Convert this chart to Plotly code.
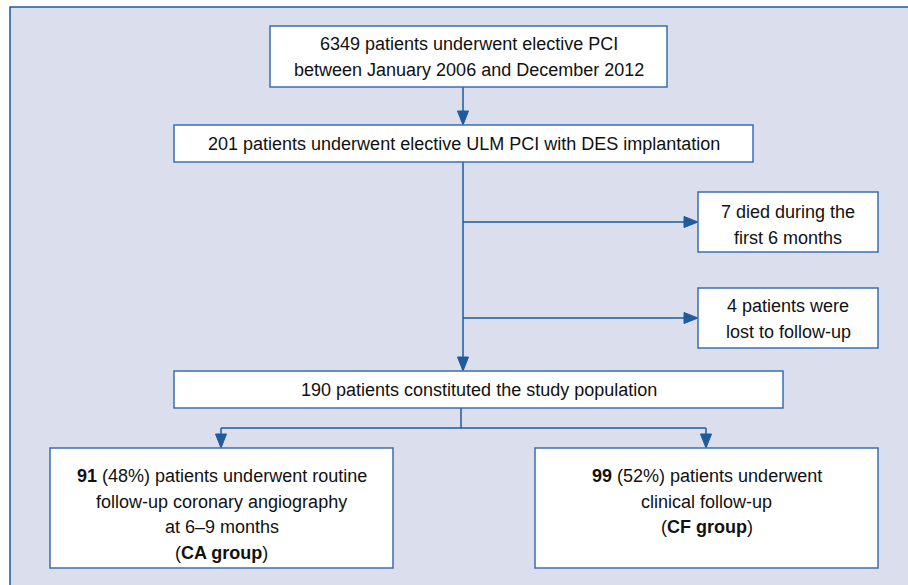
import plotly.graph_objects as go

# ---- content (text lines of each flowchart box) ----
box1_lines = ["6349 patients underwent elective PCI",
              "between January 2006 and December 2012"]
box2_lines = ["201 patients underwent elective ULM PCI with DES implantation"]
box3_lines = ["7 died during the", "first 6 months"]
box4_lines = ["4 patients were", "lost to follow-up"]
box5_lines = ["190 patients constituted the study population"]
box6_lines = ["<b>91</b> (48%) patients underwent routine",
              "follow-up coronary angiography",
              "at 6–9 months",
              "(<b>CA group</b>)"]
box7_lines = ["<b>99</b> (52%) patients underwent",
              "clinical follow-up",
              "(<b>CF group</b>)"]
all_lines = [box1_lines, box2_lines, box3_lines, box4_lines,
             box5_lines, box6_lines, box7_lines]

# ---- layout geometry (pixels) ----
boxes = [  # x0, y0, x1, y1, first-line-center-y
    (270, 26, 667, 87, 44),
    (174, 125, 753, 162, 144),
    (698, 192, 878, 252, 212),
    (698, 288, 878, 348, 306),
    (174, 371, 783, 408, 390),
    (50, 448, 393, 568, 476),
    (535, 448, 878, 568, 476),
]
LINE_STEP = 25.5

W, H = 908, 585
LINE = "#1f5a9e"
BOXLINE = "#3b6fb0"
BG = "#dadeed"
FONT = "Liberation Sans, Arial, sans-serif"

shapes = []
annotations = []

# outer frame
shapes.append(dict(type="rect", x0=10, y0=7, x1=W + 20, y1=H + 20,
                   line=dict(color=LINE, width=1.5), fillcolor=BG, layer="below"))

def seg(x0, y0, x1, y1):
    shapes.append(dict(type="line", x0=x0, y0=y0, x1=x1, y1=y1,
                       line=dict(color=LINE, width=1.5)))

def arrow_head(x, y, direction):
    L, hw = 14, 5.5
    if direction == "down":
        p = f"M {x-hw},{y-L} L {x+hw},{y-L} L {x},{y} Z"
    else:  # right
        p = f"M {x-L},{y-hw} L {x-L},{y+hw} L {x},{y} Z"
    shapes.append(dict(type="path", path=p, fillcolor=LINE,
                       line=dict(color=LINE, width=1)))

# connectors
cx = 463
seg(cx, 87, cx, 113); arrow_head(cx, 125, "down")
seg(cx, 162, cx, 358); arrow_head(cx, 371, "down")
seg(cx, 222, 686, 222); arrow_head(698, 222, "right")
seg(cx, 318, 686, 318); arrow_head(698, 318, "right")
seg(461, 408, 461, 428)
seg(221, 428, 706, 428)
seg(221, 428, 221, 436); arrow_head(221, 448, "down")
seg(706, 428, 706, 436); arrow_head(706, 448, "down")

# boxes
for (x0, y0, x1, y1, ty), lines in zip(boxes, all_lines):
    shapes.append(dict(type="rect", x0=x0, y0=y0, x1=x1, y1=y1,
                       line=dict(color=BOXLINE, width=1.5), fillcolor="white"))
    for i, txt in enumerate(lines):
        annotations.append(dict(x=(x0 + x1) / 2, y=ty + i * LINE_STEP, text=txt,
                                showarrow=False, xref="x", yref="y",
                                xanchor="center", yanchor="middle", align="center",
                                font=dict(family=FONT, size=18, color="#111111")))

fig = go.Figure()
fig.update_layout(
    width=W, height=H,
    margin=dict(l=0, r=0, t=0, b=0),
    paper_bgcolor="white", plot_bgcolor="white",
    xaxis=dict(range=[0, W], visible=False, fixedrange=True),
    yaxis=dict(range=[H, 0], visible=False, fixedrange=True),
    shapes=shapes, annotations=annotations, showlegend=False,
)
fig.write_html("out.html", config=dict(displayModeBar=False),
               post_script="document.body.style.margin='0';"
                           "document.body.style.overflow='hidden';")
